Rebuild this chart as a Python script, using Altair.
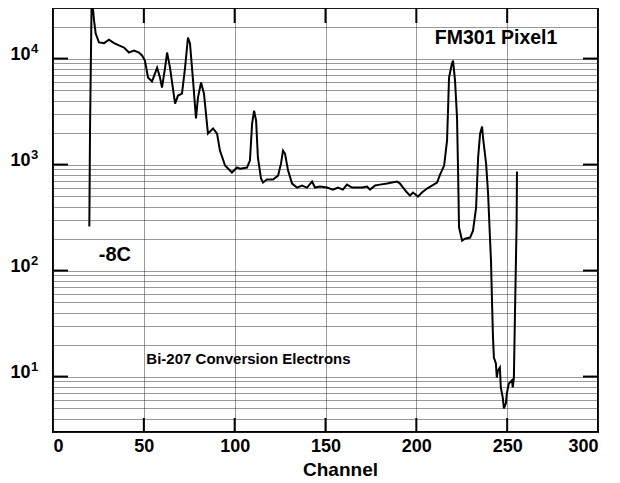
import altair as alt
import pandas as pd

# ---- data ----
channel = [20.0, 20.4, 21.3, 22.6, 23.5, 25.3, 28.1, 30.8, 33.6, 36.3, 39.1, 41.8, 44.6, 47.3, 49.0,
           50.6, 52.3, 54.5, 57.3, 58.9, 60.0, 61.7, 62.8, 64.4, 67.2, 68.8, 71.0, 72.7, 74.3, 75.4,
           77.1, 78.7, 79.8, 81.5, 83.1, 85.3, 88.1, 90.3, 91.9, 94.7, 98.5, 101.3, 103.0, 106.8, 108.4,
           109.6, 110.7, 111.8, 112.8, 114.5, 115.6, 117.8, 121.1, 123.9, 125.5, 126.6, 127.7, 129.4,
           131.6, 134.3, 137.1, 139.8, 142.6, 144.2, 147.0, 150.8, 154.1, 156.9, 159.6, 161.8, 164.6,
           167.4, 170.1, 172.9, 174.5, 177.3, 180.0, 183.9, 186.6, 189.4, 191.0, 192.7, 194.9, 196.5,
           198.2, 200.9, 203.1, 205.9, 208.6, 211.4, 213.0, 215.3, 216.9, 217.5, 218.0, 219.6, 220.2,
           221.3, 222.4, 223.0, 223.5, 225.2, 226.8, 229.6, 231.2, 232.9, 234.0, 235.1, 236.2, 236.7,
           238.4, 239.5, 240.6, 241.1, 241.6, 242.2, 242.7, 243.8, 244.3, 244.9, 246.0, 246.5, 247.6,
           248.2, 249.3, 249.8, 250.9, 252.6, 253.1, 253.7, 254.2, 254.8, 255.2, 255.4]
counts = [260, 2340, 40000, 22800, 17200, 14200, 14000, 15100, 14000, 13300, 12700, 11400, 11900, 11400, 10700,
          9580, 6620, 6070, 8220, 6620, 5330, 8220, 11400, 8220, 3760, 4480, 4670, 8220, 15800, 13900,
          6200, 2720, 4290, 5940, 4670, 1960, 2190, 1960, 1355, 979, 841, 938, 916, 938, 1090,
          2440, 3230, 2600, 1160, 738, 677, 722, 722, 787, 1020, 1355, 1270, 877,
          662, 607, 634, 607, 692, 607, 620, 607, 580, 607, 580, 647, 607,
          607, 607, 620, 580, 634, 647, 662, 677, 692, 662, 607, 545, 510,
          545, 499, 545, 594, 634, 677, 800, 979, 1680, 3450, 6620, 8980, 9580,
          6200, 2770, 822, 255, 192, 200, 205, 238, 393, 1160, 1960, 2280, 1800,
          1020, 532, 192, 124, 55.6, 23.3, 15.1, 13.3, 9.8, 11.4, 12.2, 7.9, 6.3,
          5.0, 5.6, 6.9, 8.6, 9.2, 7.9, 9.8, 31.6, 116, 280, 860]

x_tick_values = [0, 50, 100, 150, 200, 250, 300]
x_inner_ticks = [50, 100, 150, 200, 250]
y_major = [10, 100, 1000, 10000]
y_exponents = ["1", "2", "3", "4"]
y_grid = [3, 4, 5, 6, 7, 8, 9,
          10, 20, 30, 40, 50, 60, 70, 80, 90,
          100, 200, 300, 400, 500, 600, 700, 800, 900,
          1000, 2000, 3000, 4000, 5000, 6000, 7000, 8000, 9000,
          10000, 20000, 30000]

ann_text = ["FM301 Pixel1", "-8C", "Bi-207 Conversion Electrons"]
ann_channel = [243.9, 34.1, 107.6]
ann_counts = [15800, 139, 14.5]
ann_size = [19.5, 20, 15]

# ---- chart ----
W, H = 545, 424
FONT = "Liberation Sans"

df = pd.DataFrame({"channel": channel, "counts": counts})
major_df = pd.DataFrame({"counts": y_major, "exp": y_exponents})
xt_df = pd.DataFrame({"channel": x_inner_ticks})
ann_df = pd.DataFrame({"channel": ann_channel, "counts": ann_counts, "label": ann_text, "fs": ann_size})

xscale = alt.Scale(domain=[0, 300], nice=False, zero=False)
yscale = alt.Scale(type="log", domain=[3, 30000], nice=False)

major_expr = "(datum.value == 10 || datum.value == 100 || datum.value == 1000 || datum.value == 10000) ? '10' : ''"

x_axis = alt.Axis(values=x_tick_values, grid=True, ticks=False, domain=False,
                  title="Channel", labelPadding=5, titlePadding=5, titleX=287,
                  labelFontSize=18, titleFontSize=19)
y_axis = alt.Axis(values=y_grid, grid=True, ticks=False, domain=False,
                  labelExpr=major_expr, labelPadding=23, labelOffset=-4,
                  labelFontSize=18, title=None)

X = alt.X("channel:Q", scale=xscale, axis=x_axis)
Y = alt.Y("counts:Q", scale=yscale, axis=y_axis)

line = alt.Chart(df).mark_line(color="black", strokeWidth=2, clip=True).encode(x=X, y=Y)

xt_bottom = alt.Chart(xt_df).mark_rule(color="black", strokeWidth=2).encode(
    x=X, y=alt.value(H), y2=alt.value(H - 14))
xt_top = alt.Chart(xt_df).mark_rule(color="black", strokeWidth=2).encode(
    x=X, y=alt.value(0), y2=alt.value(15))
yt_left = alt.Chart(major_df).mark_rule(color="black", strokeWidth=2).encode(
    y=Y, x=alt.value(0), x2=alt.value(15))
yt_right = alt.Chart(major_df).mark_rule(color="black", strokeWidth=2).encode(
    y=Y, x=alt.value(W), x2=alt.value(W - 15))

exps = alt.Chart(major_df).mark_text(align="left", baseline="middle", dy=-10, fontSize=13,
                                     fontWeight="bold", font=FONT, color="black").encode(
    y=Y, x=alt.value(-22), text="exp:N")

ann = alt.Chart(ann_df).mark_text(align="center", baseline="middle", fontWeight="bold",
                                  font=FONT, color="black").encode(
    x=X, y=Y, text="label:N",
    size=alt.Size("fs:Q", scale=None, legend=None))

chart = alt.layer(line, xt_bottom, xt_top, yt_left, yt_right, exps, ann).properties(
    width=W, height=H,
    autosize=alt.AutoSizeParams(type="none"),
    padding={"left": 45, "top": 0, "right": 14, "bottom": 50},
).configure_view(
    stroke="black", strokeWidth=2
).configure_axis(
    labelFont=FONT, titleFont=FONT, labelFontWeight="bold", titleFontWeight="bold",
    labelColor="black", titleColor="black",
    gridColor="#333", gridDash=[1, 1], gridWidth=1, gridOpacity=1,
)

chart.save("out.html", embed_options={"renderer": "svg", "actions": False})
